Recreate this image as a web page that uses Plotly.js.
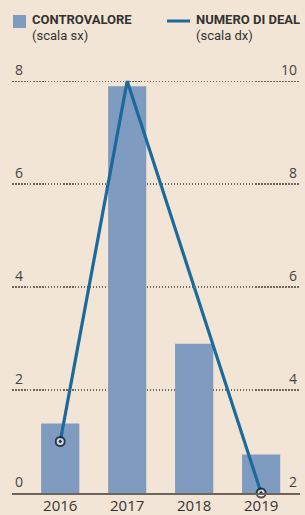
<!DOCTYPE html>
<html><head><meta charset="utf-8">
<script src="https://cdn.plot.ly/plotly-3.0.1.min.js"></script>
<style>html,body{margin:0;padding:0;background:#f3e5d6;}#chart{width:305px;height:515px;}</style>
</head><body><div id="chart"></div>
<script>
const years = ['2016', '2017', '2018', '2019'];
const controvalore = [1.35, 7.9, 2.9, 0.75];
const numeroDeal = [3, 10, 6, 2];
const markerSizes = [9, 0, 0, 9];
const markerEdges = [2, 0, 0, 2];
const leftTicks = [0, 2, 4, 6, 8];
const rightTicks = [2, 4, 6, 8, 10];
const legendBar = ['CONTROVALORE', '(scala sx)'];
const legendLine = ['NUMERO DI DEAL', '(scala dx)'];

const M = {l: 12, r: 5, t: 60, b: 22};
const W = 305, H = 515;
const PW = W - M.l - M.r, PH = H - M.t - M.b;
const px = x => (x - M.l) / PW;
const py = y => (H - M.b - y) / PH;

const barColor = '#7f9bc0', lineColor = '#1b6a9b';

const traces = [
  {type: 'bar', x: years, y: controvalore, name: legendBar[0],
   marker: {color: barColor}, yaxis: 'y', hoverinfo: 'skip'},
  {type: 'scatter', mode: 'lines+markers', x: years, y: numeroDeal, yaxis: 'y2',
   name: legendLine[0],
   line: {color: lineColor, width: 3.2},
   marker: {symbol: 'circle-dot', size: markerSizes, color: '#ffffff', line: {color: '#111', width: markerEdges}},
   cliponaxis: false}
];
const tf = {family: 'Open Sans, sans-serif', size: 14, color: '#444'};
const lf = {family: 'Roboto, sans-serif', size: 13, color: '#333'};
const layout = {
  width: W, height: H,
  paper_bgcolor: '#f3e5d6', plot_bgcolor: '#f3e5d6',
  margin: M,
  font: {family: 'Open Sans, sans-serif', color: '#333'},
  bargap: 0.43,
  showlegend: false,
  xaxis: {type: 'category', range: [-0.72, 3.58], showgrid: false, zeroline: false,
    showline: true, linecolor: '#6d645c', linewidth: 1.5, ticks: '',
    tickfont: {family: 'Open Sans, sans-serif', size: 15, color: '#333'}, ticklabelstandoff: -2},
  yaxis: {range: [0, 8.41], tickvals: leftTicks, showgrid: true, gridcolor: '#6f665e',
    griddash: '1.5px,1.5px', gridwidth: 1.2, zeroline: false, ticklabelposition: 'inside',
    ticklabelshift: -11, ticklabelstandoff: 0,
    tickfont: tf, ticks: '', showline: false},
  yaxis2: {range: [2, 10.41], tickvals: rightTicks, overlaying: 'y', side: 'right',
    showgrid: false, zeroline: false, ticklabelposition: 'inside',
    ticklabelshift: -11, ticklabelstandoff: 0,
    tickfont: tf, ticks: '', showline: false},
  shapes: [
    {type: 'rect', xref: 'paper', yref: 'paper', x0: px(13), x1: px(26), y0: py(28), y1: py(15),
     fillcolor: barColor, line: {width: 0}},
    {type: 'line', xref: 'paper', yref: 'paper', x0: px(167), x1: px(190), y0: py(21), y1: py(21),
     line: {color: lineColor, width: 3}}
  ],
  annotations: [
    {xref: 'paper', yref: 'paper', x: px(30), y: py(20), xanchor: 'left', yanchor: 'middle',
     text: '<b>' + legendBar[0] + '</b>', showarrow: false, font: lf},
    {xref: 'paper', yref: 'paper', x: px(30), y: py(36), xanchor: 'left', yanchor: 'middle',
     text: legendBar[1], showarrow: false, font: lf},
    {xref: 'paper', yref: 'paper', x: px(194), y: py(20), xanchor: 'left', yanchor: 'middle',
     text: '<b>' + legendLine[0] + '</b>', showarrow: false, font: lf},
    {xref: 'paper', yref: 'paper', x: px(194), y: py(36), xanchor: 'left', yanchor: 'middle',
     text: legendLine[1], showarrow: false, font: lf}
  ]
};
Plotly.newPlot('chart', traces, layout, {displayModeBar: false, staticPlot: true});
</script></body></html>
